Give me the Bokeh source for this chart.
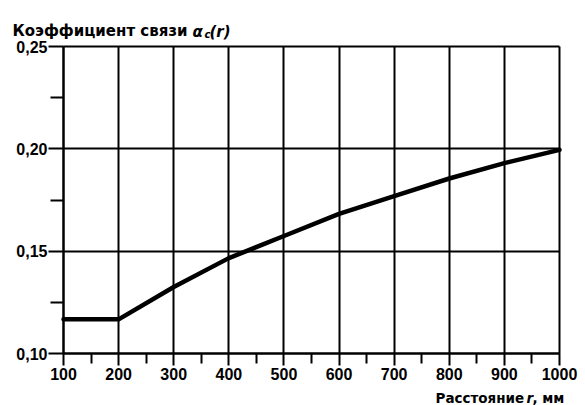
from bokeh.plotting import figure
from bokeh.models import FixedTicker, Range1d, Label
from bokeh.embed import file_html
from bokeh.resources import INLINE

# data
distance_mm = [100, 200, 300, 400, 500, 600, 700, 800, 900, 1000]
coupling = [0.1167, 0.1167, 0.1325, 0.1466, 0.1574, 0.1682, 0.1769, 0.1855, 0.1930, 0.1995]

x_ticks = [100, 200, 300, 400, 500, 600, 700, 800, 900, 1000]
x_minor = [150, 250, 350, 450, 550, 650, 750, 850, 950]
y_ticks = [0.10, 0.15, 0.20, 0.25]
y_minor = [0.125, 0.175, 0.225]
y_tick_labels = ["0,10", "0,15", "0,20", "0,25"]

title_main = "Коэффициент связи"
title_sym = "α"
title_sub = "c"
title_arg = "(r)"
xlabel_main = "Расстояние"
xlabel_var = "r"
xlabel_unit = ", мм"

FONT = "Liberation Sans"
TFONT = "DejaVu Sans"
W, H = 585, 405
# plot box position on the canvas (pixels)
L, R, T, B = 63, 559, 46, 353

x0, x1 = x_ticks[0], x_ticks[-1]
y0, y1 = y_ticks[0], y_ticks[-1]
sx = (x1 - x0) / (R - L)
sy = (y1 - y0) / (B - T)

p = figure(width=W, height=H, output_backend="svg", toolbar_location=None,
           x_range=Range1d(x0 - L * sx, x1 + (W - R) * sx),
           y_range=Range1d(y0 - (H - B) * sy, y1 + T * sy),
           min_border=0)
p.background_fill_color = "white"
p.border_fill_color = "white"
p.outline_line_color = None

xt = FixedTicker(ticks=x_ticks, minor_ticks=x_minor)
yt = FixedTicker(ticks=y_ticks, minor_ticks=y_minor)
p.xaxis.ticker = xt
p.yaxis.ticker = yt
p.xgrid.ticker = xt
p.ygrid.ticker = yt
p.yaxis.major_label_overrides = {t: l for t, l in zip(y_ticks, y_tick_labels)}

p.xaxis.fixed_location = y0
p.yaxis.fixed_location = x0
p.xaxis.bounds = (x0, x1)
p.yaxis.bounds = (y0, y1)

for ax in (p.xaxis[0], p.yaxis[0]):
    ax.axis_line_color = "black"
    ax.axis_line_width = 2
    ax.major_tick_line_color = "black"
    ax.major_tick_line_width = 2
    ax.minor_tick_line_color = "black"
    ax.minor_tick_line_width = 2
    ax.major_tick_in = 0
    ax.minor_tick_in = 0
    ax.major_label_text_font = FONT
    ax.major_label_text_font_style = "bold"
    ax.major_label_text_font_size = "16px"
    ax.major_label_text_color = "black"

p.xaxis.major_tick_out = 12
p.xaxis.minor_tick_out = 10
p.xaxis.major_label_standoff = 2
p.yaxis.major_tick_out = 15
p.yaxis.minor_tick_out = 13
p.yaxis.major_label_standoff = 1

p.xgrid[0].cross_bounds = (y0, y1)
p.ygrid[0].cross_bounds = (x0, x1)
p.xgrid[0].bounds = (x0, x1)
p.ygrid[0].bounds = (y0, y1)
for g in (p.xgrid[0], p.ygrid[0]):
    g.grid_line_color = "black"
    g.grid_line_width = 2
    g.grid_line_alpha = 1.0

p.line(distance_mm, coupling, line_color="black", line_width=4.5, line_join="round", line_cap="round")

def lab(text, x, y, size, style="bold", align="left", baseline="alphabetic", font=TFONT):
    # x, y in canvas pixels from the top-left
    p.add_layout(Label(x=x, y=H - y, x_units="screen", y_units="screen", text=text,
                       text_font=font, text_font_style=style, text_font_size=size,
                       text_color="black", text_align=align, text_baseline=baseline))

# title
lab(title_main, 12, 30, "15px")
lab(title_sym, 192, 31, "15px", style="bold italic")
lab(title_sub, 204, 34, "10px", style="bold italic")
lab(title_arg, 209, 31, "15px", style="bold italic")

# x axis label
lab(xlabel_main, 435, 397, "13.5px")
lab(xlabel_var, 526, 397, "13.5px", style="bold italic")
lab(xlabel_unit, 532, 397, "13.5px")

open("out.html", "w").write(file_html(p, INLINE))
